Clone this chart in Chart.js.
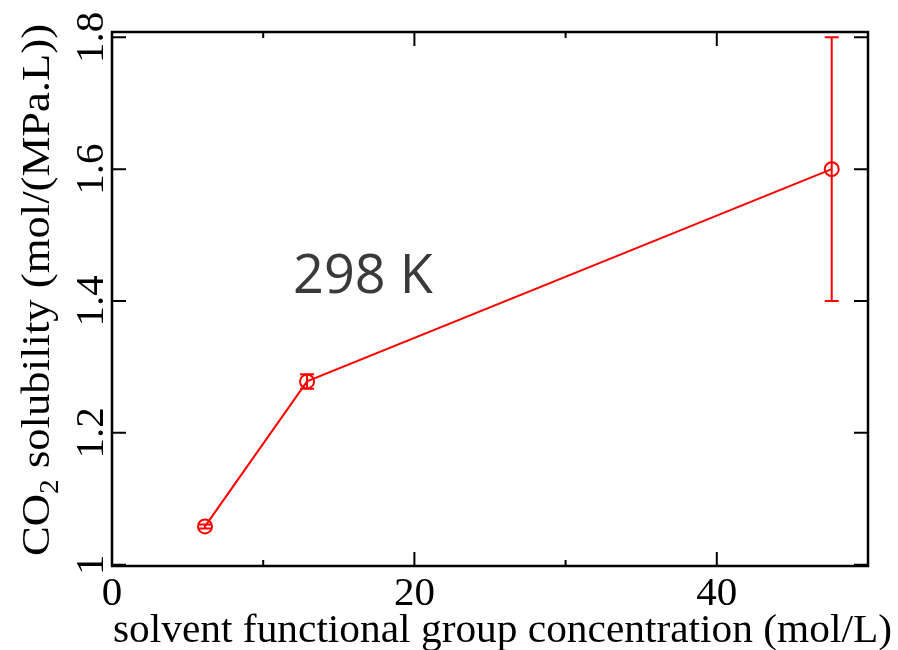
<!DOCTYPE html>
<html>
<head>
<meta charset="utf-8">
<title>CO2 solubility vs solvent functional group concentration</title>
<script src="https://cdn.jsdelivr.net/npm/chart.js@4/dist/chart.umd.min.js"></script>
<style>
  html, body { margin: 0; padding: 0; background: #ffffff; }
  #wrap { width: 898px; height: 650px; }
</style>
</head>
<body>
<div id="wrap"><canvas id="c" width="898" height="650"></canvas></div>
<script>
// Measured series at 298 K
const concentration = [6.15, 12.9, 47.6];      // mol/L
const solubility    = [1.058, 1.278, 1.6];     // mol/(MPa.L)
const solubilityErr = [0.003, 0.011, 0.2];

// Axis ticks
const xTickValues  = [0, 10, 20, 30, 40];
const xTickLabels  = ['0', '', '20', '', '40'];
const yTickValues  = [1, 1.2, 1.4, 1.6, 1.8];
const yTickLabels  = ['1', '1.2', '1.4', '1.6', '1.8'];

const RED = '#ff0000';
const SERIF = '"Liberation Serif", "Times New Roman", serif';

// Error bars with caps, drawn from the y scale
const errorBars = {
  id: 'errorBars',
  afterDatasetsDraw(chart) {
    const { ctx, scales: { x, y } } = chart;
    ctx.save();
    ctx.strokeStyle = RED;
    ctx.lineWidth = 2;
    concentration.forEach((cx, i) => {
      const px = x.getPixelForValue(cx);
      const top = y.getPixelForValue(solubility[i] + solubilityErr[i]);
      const bot = y.getPixelForValue(solubility[i] - solubilityErr[i]);
      ctx.beginPath();
      ctx.moveTo(px, top); ctx.lineTo(px, bot);
      ctx.moveTo(px - 7, top); ctx.lineTo(px + 7, top);
      ctx.moveTo(px - 7, bot); ctx.lineTo(px + 7, bot);
      ctx.stroke();
    });
    ctx.restore();
  }
};

// Boxed frame with inward ticks, rotated y labels, axis titles and annotation
const frame = {
  id: 'frame',
  afterDraw(chart) {
    const { ctx, chartArea: a, scales: { x, y } } = chart;
    ctx.save();
    ctx.strokeStyle = '#000';
    ctx.lineWidth = 2.5;
    ctx.strokeRect(a.left, a.top, a.right - a.left, a.bottom - a.top);

    ctx.lineWidth = 2;
    ctx.beginPath();
    xTickValues.forEach((v, i) => {
      const px = x.getPixelForValue(v);
      const len = xTickLabels[i] ? 14 : 6;
      ctx.moveTo(px, a.bottom); ctx.lineTo(px, a.bottom - len);
      ctx.moveTo(px, a.top); ctx.lineTo(px, a.top + len);
    });
    yTickValues.forEach(v => {
      const py = y.getPixelForValue(v);
      ctx.moveTo(a.left, py); ctx.lineTo(a.left + 14, py);
      ctx.moveTo(a.right, py); ctx.lineTo(a.right - 14, py);
    });
    ctx.stroke();

    ctx.fillStyle = '#000';
    ctx.font = '41px ' + SERIF;
    ctx.textBaseline = 'alphabetic';
    ctx.textAlign = 'center';
    xTickValues.forEach((v, i) => {
      if (!xTickLabels[i]) return;
      ctx.fillText(xTickLabels[i], x.getPixelForValue(v), 605);
    });
    yTickValues.forEach((v, i) => {
      const py = y.getPixelForValue(v);
      ctx.save();
      ctx.translate(103, py);
      ctx.rotate(-Math.PI / 2);
      ctx.fillText(yTickLabels[i], 0, 0);
      ctx.restore();
    });

    // x axis title, spread over its span below the axis
    ctx.textAlign = 'left';
    const xTitle = 'solvent functional group concentration (mol/L)';
    const xw = ctx.measureText(xTitle).width;
    ctx.save();
    ctx.translate(113, 642);
    ctx.scale(779 / xw, 1);
    ctx.fillText(xTitle, 0, 0);
    ctx.restore();

    // y axis title with subscript, spread along the left side
    const big = '41px ' + SERIF, small = '27px ' + SERIF;
    const tail = ' solubility (mol/(MPa.L))';
    ctx.font = big;
    const wCO = ctx.measureText('CO').width;
    const wTail = ctx.measureText(tail).width;
    ctx.font = small;
    const wSub = ctx.measureText('2').width;
    const total = wCO + wSub + wTail;
    ctx.save();
    ctx.translate(49, 556);
    ctx.rotate(-Math.PI / 2);
    ctx.scale(532 / total, 1);
    ctx.font = big;
    ctx.fillText('CO', 0, 0);
    ctx.font = small;
    ctx.fillText('2', wCO, 9);
    ctx.font = big;
    ctx.fillText(tail, wCO + wSub, 0);
    ctx.restore();

    // temperature annotation
    ctx.fillStyle = '#3a3a3a';
    ctx.font = '54px "Open Sans", sans-serif';
    ctx.textAlign = 'left';
    ctx.fillText('298 K', 293, 293);
    ctx.restore();
  }
};

new Chart(document.getElementById('c'), {
  type: 'scatter',
  data: {
    datasets: [{
      label: '298 K',
      data: concentration.map((c, i) => ({ x: c, y: solubility[i] })),
      showLine: true,
      borderColor: RED,
      borderWidth: 2,
      pointStyle: 'circle',
      pointRadius: 7,
      pointBorderWidth: 2,
      pointBorderColor: RED,
      pointBackgroundColor: 'rgba(0,0,0,0)',
      tension: 0
    }]
  },
  options: {
    responsive: false,
    animation: false,
    devicePixelRatio: 1,
    layout: { padding: { left: 112, top: 32, right: 30, bottom: 84 } },
    plugins: { legend: { display: false }, tooltip: { enabled: false } },
    scales: {
      x: { type: 'linear', min: 0, max: 50, display: false },
      y: { type: 'linear', min: 0.998, max: 1.808, display: false }
    }
  },
  plugins: [errorBars, frame]
});
</script>
</body>
</html>
